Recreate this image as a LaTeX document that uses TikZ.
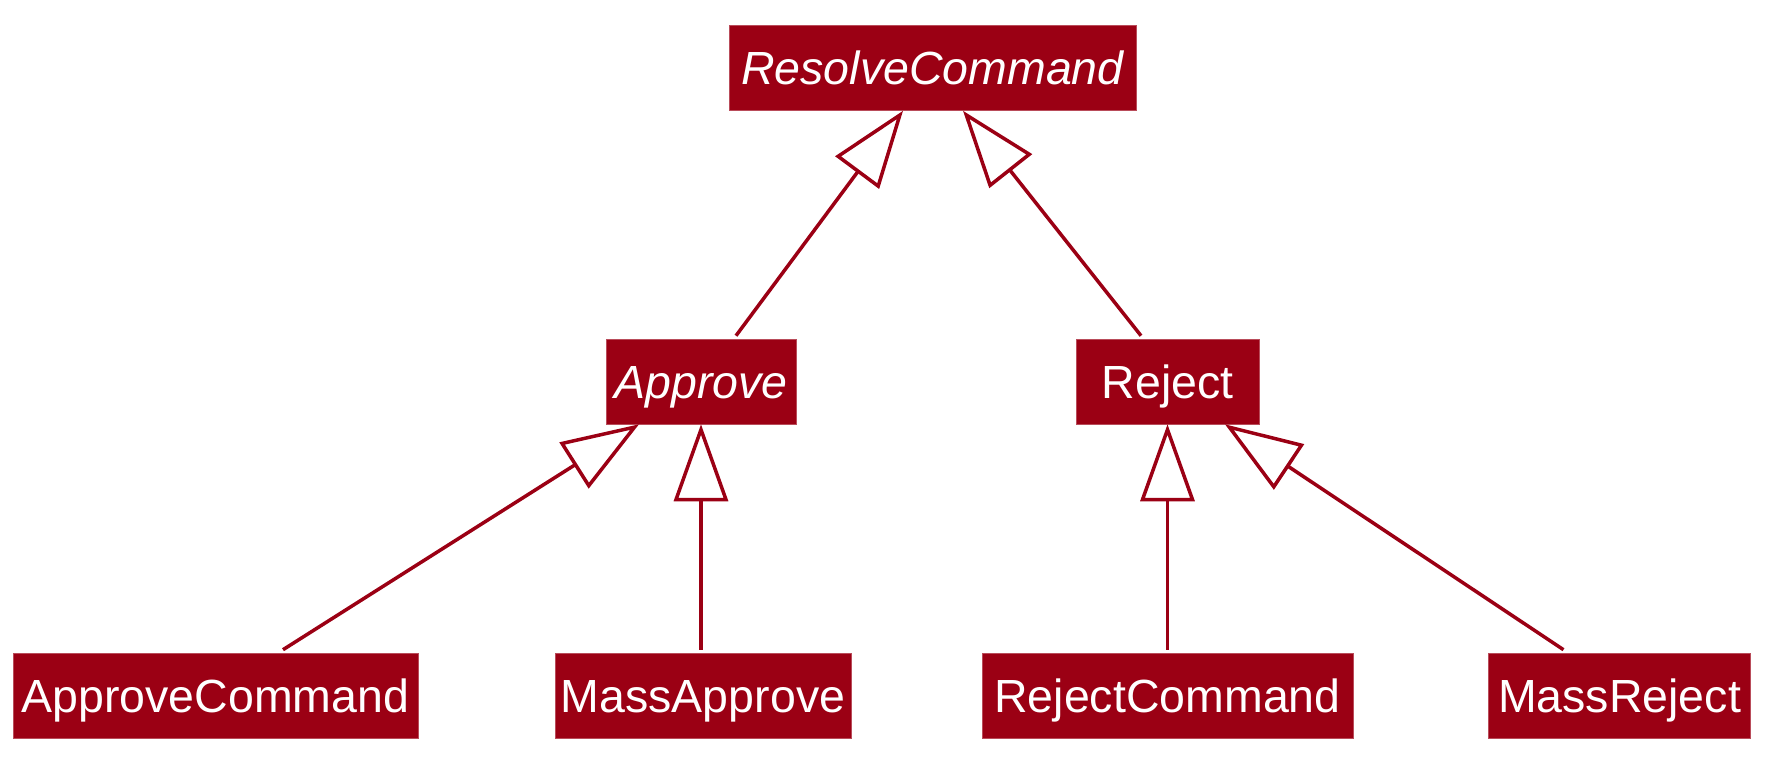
\documentclass[tikz,border=0pt]{standalone}
\usepackage{fontspec}
\setmainfont{Liberation Sans}
\usepackage{tikz}
\usetikzlibrary{arrows, arrows.meta, positioning}
\definecolor{umlred}{RGB}{155,0,20}
\newcommand{\classfont}{\fontsize{46.5}{55}\selectfont}

\begin{document}
\begin{tikzpicture}[>={Triangle[open, length=77pt, width=54pt]}]
\tikzstyle{cls} = [fill=umlred, draw=umlred!70!white, line width=0.6pt, text=white, minimum height=85pt, inner xsep=4pt, inner ysep=0pt, text height=33pt, text depth=0pt, font=\classfont]
\tikzstyle{abstractcls} = [cls, font=\classfont\itshape]
\tikzstyle{gen} = [draw=umlred, line width=3.5pt, fill=white]

\useasboundingbox (0,0) rectangle (1789pt,-769pt);

%top class
\node [abstractcls, name = resolve, minimum width = 407pt] at (932.5pt,-68pt) {ResolveCommand};

%second level
\node (approve)[abstractcls, minimum width = 190pt, below of = resolve, node distance = 313.5pt, xshift = -231.5pt]{Approve};
\node (reject)[cls, minimum width = 183pt, below of = resolve, node distance = 313.5pt, xshift = 235pt]{Reject};

%bottom level
\node (approvecmd)[cls, minimum width = 405pt, below of = approve, node distance = 314pt, xshift = -485.5pt]{ApproveCommand};
\node (massapprove)[cls, minimum width = 296pt, below of = approve, node distance = 314pt, xshift = 2pt]{MassApprove};
\node (rejectcmd)[cls, minimum width = 371pt, below of = reject, node distance = 314pt, xshift = 0pt]{RejectCommand};
\node (massreject)[cls, minimum width = 262pt, below of = reject, node distance = 314pt, xshift = 452pt]{MassReject};

%generalisations
\draw [gen, ->] ([xshift=35pt, yshift=3pt]approve.north) -- ([xshift=-29.5pt]resolve.south);
\draw [gen, ->] ([xshift=-26.5pt, yshift=3pt]reject.north) -- ([xshift=30.5pt]resolve.south);
\draw [gen, ->] ([xshift=67.5pt, yshift=3pt]approvecmd.north) -- ([xshift=-62pt]approve.south);
\draw [gen, ->] ([yshift=3pt]approve.south |- massapprove.north) -- (approve.south);
\draw [gen, ->] ([yshift=3pt]reject.south |- rejectcmd.north) -- (reject.south);
\draw [gen, ->] ([xshift=-56pt, yshift=3pt]massreject.north) -- ([xshift=57.5pt]reject.south);

\end{tikzpicture}
\end{document}
